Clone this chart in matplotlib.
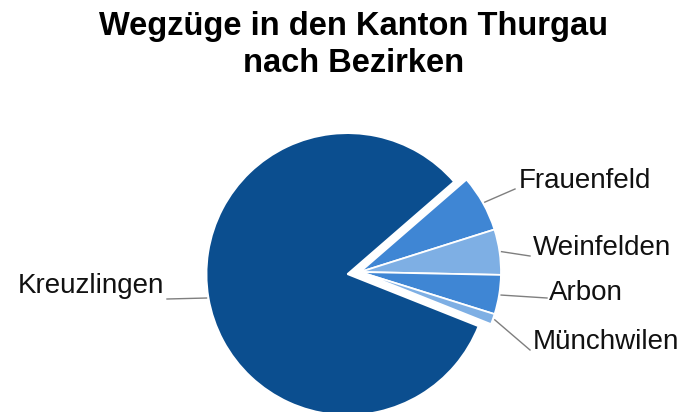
import numpy as np
import matplotlib
matplotlib.use("Agg")
import matplotlib.pyplot as plt

plt.rcParams['font.family'] = ['Liberation Sans', 'DejaVu Sans']

bezirke = ["Kreuzlingen", "Frauenfeld", "Weinfelden", "Arbon", "Münchwilen"]
wegzuege = [826, 65, 52, 45, 12]
farben = ["#0b4e8f", "#3f86d4", "#7eafe4", "#3f86d4", "#7eafe4"]

R = 141
# pie() takes explode in data units, not as a fraction of the radius
explode = [0.09 * R, 0, 0, 0, 0]

# label text spots (pixel coords, y from top): text x, baseline y, line end
label_pos = {
    "Kreuzlingen": (164, 293, 167, 299, "right"),
    "Frauenfeld": (519, 188, 515, 189, "left"),
    "Weinfelden": (533, 255, 530, 256, "left"),
    "Arbon": (549, 300, 547, 298, "left"),
    "Münchwilen": (533, 349, 530, 350, "left"),
}

W, H = 700, 412
fig = plt.figure(figsize=(7, 4.12), dpi=100)
ax = fig.add_axes([0, 0, 1, 1])

wedges, _ = ax.pie(wegzuege, colors=farben, explode=explode,
                   startangle=-21.7, counterclock=False,
                   center=(360, H - 272), radius=R,
                   wedgeprops=dict(edgecolor="white", linewidth=1.3))
ax.set_xlim(0, W)
ax.set_ylim(0, H)
ax.set_aspect("equal")
ax.axis("off")

for w, name in zip(wedges, bezirke):
    mid = np.deg2rad((w.theta1 + w.theta2) / 2)
    cx, cy = w.center
    ax0 = cx + (w.r + 2) * np.cos(mid)
    ay0 = cy + (w.r + 2) * np.sin(mid)
    tx, ty, lx, ly, ha = label_pos[name]
    ax.plot([ax0, lx], [ay0, H - ly], color="#7f7f7f", lw=1.0)
    ax.text(tx, H - ty, name, fontsize=20, ha=ha, va="baseline", color="#111111")

fig.text(354 / W, 1 - 35 / H, "Wegzüge in den Kanton Thurgau", fontsize=23.5,
         fontweight="bold", ha="center", va="baseline")
fig.text(354 / W, 1 - 72 / H, "nach Bezirken", fontsize=23.5,
         fontweight="bold", ha="center", va="baseline")

fig.savefig("out.png", dpi=100)
